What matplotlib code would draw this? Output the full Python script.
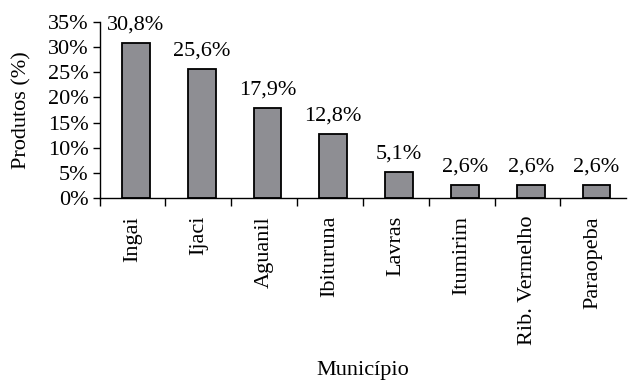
import matplotlib.pyplot as plt
import numpy as np

plt.rcParams['font.family'] = ['Liberation Serif', 'DejaVu Serif']

municipios = ['Ingai', 'Ijaci', 'Aguanil', 'Ibituruna', 'Lavras',
              'Itumirim', 'Rib. Vermelho', 'Paraopeba']
produtos = [30.8, 25.6, 17.9, 12.8, 5.1, 2.6, 2.6, 2.6]
rotulos = ['30,8%', '25,6%', '17,9%', '12,8%', '5,1%', '2,6%', '2,6%', '2,6%']

fs = 16
fig = plt.figure(figsize=(6.35, 3.82), dpi=100)
ax = fig.add_axes([0.157, 0.482, 0.829, 0.46])

x = np.arange(len(municipios))
ax.bar(x + 0.05, produtos, width=0.42, color='#8e8e93', edgecolor='black', linewidth=1.3)

for xi, v, t in zip(x, produtos, rotulos):
    ax.annotate(t, (xi + 0.05, v), xytext=(0, 6), textcoords='offset points',
                ha='center', va='bottom', fontsize=fs)

ax.set_xlim(-0.5, 7.5)
ax.set_ylim(0, 35)
ax.set_yticks(np.arange(0, 36, 5))
ax.set_yticklabels([f'{v}%' for v in range(0, 36, 5)], fontsize=fs)

ax.set_xticks(x)
ax.set_xticklabels(municipios, rotation=90, fontsize=fs)
ax.tick_params(axis='x', length=0, pad=13)
ax.set_xticks(np.arange(-0.5, 7.0, 1), minor=True)
ax.tick_params(axis='x', which='minor', length=6, width=1, direction='out')
ax.tick_params(axis='y', length=5, width=1, direction='out', pad=3)

for s in ['top', 'right']:
    ax.spines[s].set_visible(False)
ax.spines['left'].set_linewidth(1)
ax.spines['bottom'].set_linewidth(1)

ax.set_ylabel('Produtos (%)', fontsize=fs, labelpad=12)
fig.text(0.571, 0.03, 'Município', fontsize=fs, ha='center', va='center')

fig.savefig('out.png', dpi=100)
